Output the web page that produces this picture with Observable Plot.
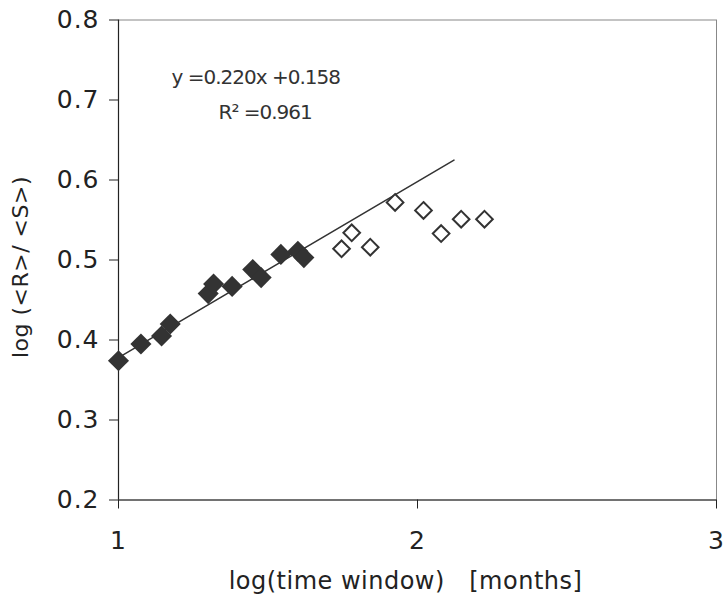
<!DOCTYPE html>
<html><head><meta charset="utf-8">
<script src="https://cdn.jsdelivr.net/npm/d3@7"></script>
<script src="https://cdn.jsdelivr.net/npm/@observablehq/plot@0.6"></script>
<style>
body{margin:0;background:#fff}
svg text{white-space:pre}
</style>
</head><body><div id="chart"></div>
<script>
// Fitted (filled) points
const fittedX = [1.00, 1.075, 1.144, 1.173, 1.30, 1.318, 1.38, 1.449, 1.477, 1.543, 1.60, 1.62];
const fittedY = [0.374, 0.395, 0.405, 0.420, 0.458, 0.470, 0.467, 0.488, 0.478, 0.507, 0.511, 0.503];
// Excluded (hollow) points
const otherX = [1.746, 1.78, 1.842, 1.925, 2.02, 2.079, 2.146, 2.224];
const otherY = [0.514, 0.534, 0.516, 0.572, 0.562, 0.533, 0.551, 0.551];
// Trend line y = slope*x + intercept over x range
const slope = 0.220, intercept = 0.158;
const trendX = [1.0, 2.122];
const xTicks = [1, 2, 3];
const yTicks = [0.2, 0.3, 0.4, 0.5, 0.6, 0.7, 0.8];
const eqText = "y =0.220x +0.158";
const r2Text = "R² =0.961";
const xLabel = "log(time window)   [months]";
const yLabel = "log (<R>/ <S>)";

const fitted = fittedX.map((x, i) => ({x, y: fittedY[i]}));
const others = otherX.map((x, i) => ({x, y: otherY[i]}));
const trend = trendX.map(x => ({x, y: slope * x + intercept}));

const font = "DejaVu Sans, sans-serif";
const chart = Plot.plot({
  width: 727, height: 604,
  marginLeft: 118, marginRight: 11, marginTop: 19.5, marginBottom: 104.5,
  style: {fontFamily: font, background: "#fff", color: "#222"},
  x: {domain: [1, 3]},
  y: {domain: [0.2, 0.8]},
  marks: [
    Plot.frame({stroke: "#888"}),
    Plot.ruleX([1], {stroke: "#222", strokeWidth: 1.2}),
    Plot.ruleY([0.2], {stroke: "#222", strokeWidth: 1.2}),
    Plot.axisX({ticks: xTicks, tickFormat: d => String(d), tickSize: 9, tickPadding: 22, fontSize: 25, label: null, stroke: "#222"}),
    Plot.axisY({ticks: yTicks, tickFormat: d3.format(".1f"), tickSize: 9, tickPadding: 10, fontSize: 25, label: null, stroke: "#222"}),
    Plot.line(trend, {x: "x", y: "y", stroke: "#333", strokeWidth: 1.5}),
    Plot.dot(fitted, {x: "x", y: "y", symbol: "diamond2", r: 9.5, fill: "#333", stroke: "none"}),
    Plot.dot(others, {x: "x", y: "y", symbol: "diamond2", r: 7.5, fill: "#fff", stroke: "#333", strokeWidth: 2}),
    Plot.text([eqText], {frameAnchor: "top-left", text: d => d, dx: 53, dy: 58, textAnchor: "start", lineAnchor: "middle", fontSize: 20, fill: "#333"}),
    Plot.text([r2Text], {frameAnchor: "top-left", text: d => d, dx: 100, dy: 93, textAnchor: "start", lineAnchor: "middle", fontSize: 20, fill: "#333"}),
    Plot.text([xLabel], {frameAnchor: "bottom", text: d => d, dx: -12, dy: 81, textAnchor: "middle", lineAnchor: "middle", fontSize: 24, fill: "#222"}),
    Plot.text([yLabel], {frameAnchor: "left", text: d => d, dx: -98, dy: 7, rotate: -90, textAnchor: "middle", lineAnchor: "middle", fontSize: 22, fill: "#222"})
  ]
});
document.getElementById("chart").appendChild(chart);
// letter spacing tweaks applied via attributes on the rendered text
chart.querySelectorAll("text").forEach(t => {
  const s = t.textContent;
  if (s === eqText || s === r2Text) t.setAttribute("letter-spacing", "-1");
  else if (s === yLabel) t.setAttribute("letter-spacing", "0.5");
  else if (s === xLabel) t.setAttribute("letter-spacing", "0.5");
});
chart.querySelectorAll("g[aria-label='y-axis tick label'] text, g[aria-label='x-axis tick label'] text").forEach(t => t.setAttribute("letter-spacing", "1"));
</script>
</body></html>
